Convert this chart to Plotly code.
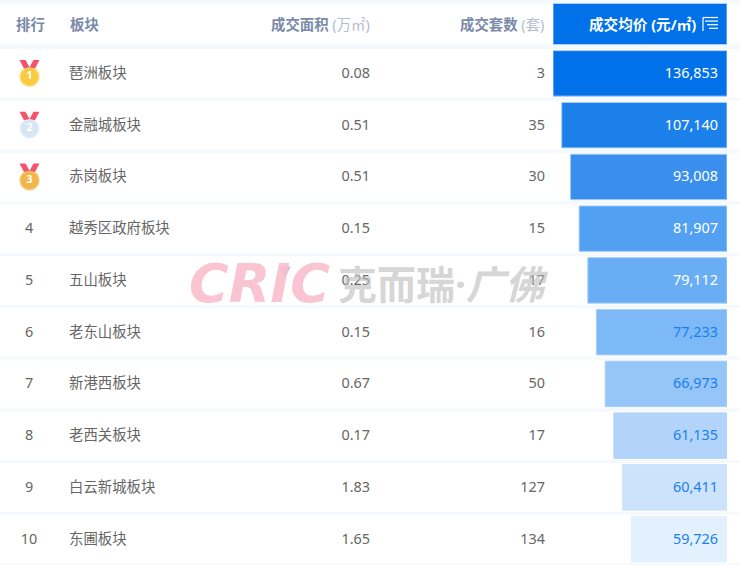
import plotly.graph_objects as go

ranks = [1, 2, 3, 4, 5, 6, 7, 8, 9, 10]
names = ["琶洲板块", "金融城板块", "赤岗板块", "越秀区政府板块", "五山板块", "老东山板块", "新港西板块", "老西关板块", "白云新城板块", "东圃板块"]
areas = ["0.08", "0.51", "0.51", "0.15", "0.25", "0.15", "0.67", "0.17", "1.83", "1.65"]
deals = [3, 35, 30, 15, 17, 16, 50, 17, 127, 134]
prices = [136853, 107140, 93008, 81907, 79112, 77233, 66973, 61135, 60411, 59726]

W, H = 740, 565
FONT = "Noto Sans, Noto Sans CJK SC, sans-serif"
BAR_COLORS = ["#0071E8", "#1C80EA", "#3A8EEE", "#52A0F1", "#69AEF4", "#7DB9F6", "#96C5F7", "#B2D4FA", "#CDE3FB", "#E3F0FE"]
BAR_EDGES = ["#A9CFF8"] * 7 + ["#B2D4FA", "#CDE3FB", "#E3F0FE"]
TEXT_COLORS = ["#FFFFFF"] * 5 + ["#1A80EE"] * 5
MEDALS = [("#FBCB3F", "#FFE08A"), ("#D6E6F2", "#E8F2F9"), ("#F0B64B", "#F6CB7A")]
ROW = 51.75
Y0 = 73.4
y_top = 1 - Y0 / ROW
y_bottom = 1 + (H - Y0) / ROW
HEAD_Y = 1 + (24 - Y0) / ROW
TEXT_SHIFT = 0.8 / ROW


def ypaper(px):
    return 1 - px / H


fig = go.Figure()

# white row bands
fig.add_trace(go.Bar(x=[W] * 11, y=[HEAD_Y] + ranks, width=[41 / ROW] + [48.5 / ROW] * 10, orientation="h",
                     marker=dict(color="#FFFFFF", line_width=0), xaxis="x", yaxis="y", hoverinfo="skip"))
# rank-length value bars, growing from the right
lengths = [21 - r for r in ranks]
fig.add_trace(go.Bar(x=[20] + lengths, y=[HEAD_Y] + ranks, width=[41 / ROW] + [45.5 / ROW] * 10, orientation="h",
                     marker=dict(color=["#0071E8"] + BAR_COLORS, line=dict(color=["#A9CFF8"] + BAR_EDGES, width=1)),
                     xaxis="x2", yaxis="y", hoverinfo="skip"))

TEXT = dict(mode="text", xaxis="x3", yaxis="y", hoverinfo="skip", cliponaxis=False)
body = dict(family=FONT, size=14.4, color="#666666")
ty = [r + TEXT_SHIFT for r in ranks]
fig.add_trace(go.Scatter(x=[29] * 7, y=ty[3:], text=[str(r) for r in ranks[3:]], textposition="middle center", textfont=body, **TEXT))
fig.add_trace(go.Scatter(x=[69] * 10, y=ty, text=names, textposition="middle right", textfont=body, **TEXT))
fig.add_trace(go.Scatter(x=[370] * 10, y=ty, text=areas, textposition="middle left", textfont=body, **TEXT))
fig.add_trace(go.Scatter(x=[545] * 10, y=ty, text=[str(d) for d in deals], textposition="middle left", textfont=body, **TEXT))
fig.add_trace(go.Scatter(x=[718] * 10, y=ty, text=[f"{p:,}" for p in prices], textposition="middle left",
                         textfont=dict(family=FONT, size=14.4, color=TEXT_COLORS), **TEXT))

shapes = []
for r in ranks[:3]:
    cy = Y0 + (r - 1) * ROW
    for pts in ([(19.5, -13.4), (25.5, -13.4), (29.5, -6.2), (24, -5)], [(39.5, -13.4), (33.5, -13.4), (29.5, -6.2), (35, -5)]):
        path = "M" + " L".join(f"{x},{ypaper(cy + dy):.5f}" for x, dy in pts) + " Z"
        shapes.append(dict(type="path", xref="x3", yref="paper", path=path, fillcolor="#F5536B", line_width=0, layer="above"))
# sort icon in header
for i, (a, b) in enumerate([(703, 718), (705, 718), (707, 718), (709, 718)]):
    yy = ypaper(17.5 + i * 3.6)
    shapes.append(dict(type="line", xref="x3", yref="paper", x0=a, x1=b, y0=yy, y1=yy, line=dict(color="#FFFFFF", width=1.2), layer="above"))
shapes.append(dict(type="line", xref="x3", yref="paper", x0=703, x1=703, y0=ypaper(17.5), y1=ypaper(31), line=dict(color="#FFFFFF", width=1.2)))
# watermark triangle
shapes.append(dict(type="path", xref="x3", yref="paper",
                   path=f"M279,{ypaper(266.5):.5f} L291,{ypaper(266.5):.5f} L285,{ypaper(278):.5f} Z",
                   fillcolor="#BCCBE0", line_width=0))


def head(x, anchor, text):
    return dict(x=x, y=HEAD_Y, xref="x3", yref="y", xanchor=anchor, yanchor="middle", showarrow=False, text=text,
                font=dict(family=FONT, size=14.4, color="#7A8AA8"))


def unit(t):
    return f"<span style='color:#B4BCCF;font-weight:400'>{t}</span>"


annotations = [
    head(13.5, "left", "<b>排行</b>"),
    head(67.5, "left", "<b>板块</b>"),
    head(372, "right", "<b>成交面积</b> " + unit("(万㎡)")),
    head(546, "right", "<b>成交套数</b> " + unit("(套)")),
    dict(x=698, y=HEAD_Y, xref="x3", yref="y", xanchor="right", yanchor="middle", showarrow=False,
         text="<b>成交均价 (元/㎡)</b>", font=dict(family=FONT, size=14.6, color="#FFFFFF")),
    dict(x=259, y=ypaper(283), xref="x3", yref="paper", xanchor="center", yanchor="middle", showarrow=False,
         text="<b><i>CRIC</i></b>", font=dict(family="DejaVu Sans, sans-serif", size=54, color="rgba(250,190,205,0.9)")),
    dict(x=443, y=ypaper(283), xref="x3", yref="paper", xanchor="center", yanchor="middle", showarrow=False,
         text="<b>克而瑞·<i>广佛</i></b>", font=dict(family=FONT, size=39, color="rgba(190,190,190,0.65)")),
]

fig.add_trace(go.Scatter(x=[29.5] * 3, y=[r + 3.3 / ROW for r in ranks[:3]], mode="markers+text", text=[f"<b>{r}</b>" for r in ranks[:3]],
                         textposition="middle center", textfont=dict(family=FONT, size=10.5, color="#FFFFFF"),
                         marker=dict(size=19, color=[m[0] for m in MEDALS], line=dict(color=[m[1] for m in MEDALS], width=1.5)),
                         xaxis="x3", yaxis="y", hoverinfo="skip"))

hidden = dict(visible=False, fixedrange=True)
fig.update_layout(
    width=W, height=H, margin=dict(l=0, r=0, t=0, b=0), paper_bgcolor="#F5F9FB", plot_bgcolor="rgba(0,0,0,0)",
    showlegend=False, barmode="overlay", shapes=shapes, annotations=annotations,
    xaxis=dict(range=[0, W], domain=[0, 1], **hidden),
    xaxis2=dict(range=[20, 0], domain=[553 / W, 727 / W], anchor="y", **hidden),
    xaxis3=dict(range=[0, W], domain=[0, 1], anchor="y", **hidden),
    yaxis=dict(range=[y_bottom, y_top], domain=[0, 1], **hidden),
)
fig.write_html("out.html", config=dict(displayModeBar=False),
               post_script="document.body.style.margin='0';document.documentElement.style.overflow='hidden';")
